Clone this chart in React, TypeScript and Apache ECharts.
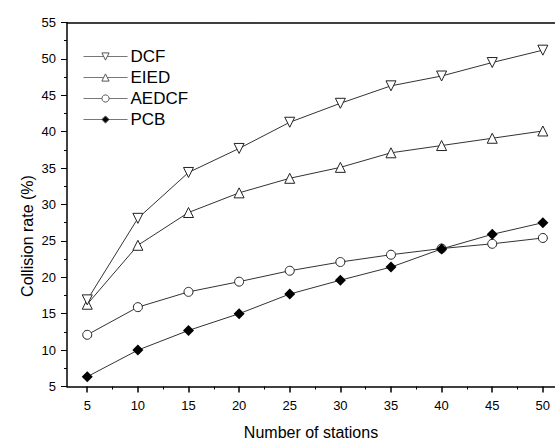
import React, { useEffect, useRef } from "react";
import * as echarts from "echarts";

const stations = [5, 10, 15, 20, 25, 30, 35, 40, 45, 50];
const dcf = [16.9, 28.1, 34.4, 37.7, 41.3, 43.9, 46.3, 47.65, 49.5, 51.2];
const eied = [16.3, 24.4, 28.9, 31.6, 33.6, 35.1, 37.1, 38.1, 39.1, 40.1];
const aedcf = [12.1, 15.9, 18.0, 19.4, 20.9, 22.1, 23.1, 23.95, 24.6, 25.4];
const pcb = [6.35, 10.0, 12.7, 15.0, 17.7, 19.6, 21.4, 23.9, 25.9, 27.5];
const xMajorTicks = [5, 10, 15, 20, 25, 30, 35, 40, 45, 50];
const xMinorTicks = [7.5, 12.5, 17.5, 22.5, 27.5, 32.5, 37.5, 42.5, 47.5];

const FONT = "Liberation Sans, Arial, sans-serif";

export default function App() {
  const ref = useRef<HTMLDivElement>(null);
  useEffect(() => {
    if (!ref.current) return;
    const chart = echarts.init(ref.current, undefined, { renderer: "svg" });
    const pair = (arr: number[]) => stations.map((s, i) => [s, arr[i]]);
    const lineStyle = { color: "#333", width: 1 };
    const emptyItem = { color: "#fff", borderColor: "#222", borderWidth: 1 };
    chart.setOption({
      animation: false,
      backgroundColor: "#fff",
      textStyle: { fontFamily: FONT },
      grid: { left: 67, right: 0, top: 22.5, bottom: 54.5, containLabel: false, outerBoundsMode: "none" },
      legend: {
        orient: "vertical",
        left: 78,
        top: 43,
        itemGap: 4,
        itemWidth: 44,
        itemHeight: 9,
        textStyle: { fontSize: 17, color: "#000", fontFamily: FONT, padding: [0, 0, 0, -2] },
        lineStyle: { color: "#777", width: 1 },
        itemStyle: { borderColor: "#555", borderWidth: 1 },
        data: ["DCF", "EIED", "AEDCF", "PCB"],
      },
      xAxis: [
        {
          type: "value",
          min: 3,
          max: 51.2,
          name: "Number of stations",
          nameLocation: "middle",
          nameGap: 38,
          nameTextStyle: { fontSize: 16, lineHeight: 16, color: "#000", fontFamily: FONT },
          axisLine: { show: true, lineStyle: { color: "#000", width: 1.5 } },
          axisTick: { show: true, inside: false, length: 6, customValues: xMajorTicks, lineStyle: { color: "#000", width: 1.5 } },
          axisLabel: { customValues: xMajorTicks, fontSize: 13, color: "#000", margin: 12, fontFamily: FONT },
          splitLine: { show: false },
        },
        {
          type: "value",
          min: 3,
          max: 51.2,
          position: "bottom",
          axisLine: { show: false },
          axisTick: { show: true, inside: false, length: 3, customValues: xMinorTicks, lineStyle: { color: "#000", width: 1 } },
          axisLabel: { show: false },
          splitLine: { show: false },
        },
        {
          type: "value",
          min: 3,
          max: 51.2,
          position: "top",
          axisLine: { show: true, lineStyle: { color: "#000", width: 1.5 } },
          axisTick: { show: false },
          axisLabel: { show: false },
          splitLine: { show: false },
        },
      ],
      yAxis: {
        type: "value",
        min: 5,
        max: 55,
        interval: 5,
        axisLine: { show: true, lineStyle: { color: "#000", width: 1.5 } },
        axisTick: { show: true, inside: false, length: 6, lineStyle: { color: "#000", width: 1 } },
        minorTick: { show: true, splitNumber: 2, length: 3, lineStyle: { color: "#000", width: 1 } },
        axisLabel: { fontSize: 13, color: "#000", margin: 11, fontFamily: FONT },
        splitLine: { show: false },
      },
      graphic: [
        {
          type: "text",
          x: 27,
          y: 236,
          rotation: Math.PI / 2,
          style: {
            text: "Collision rate (%)",
            fontSize: 16,
            fontFamily: FONT,
            fill: "#000",
            textAlign: "center",
            textVerticalAlign: "middle",
          },
        },
      ],
      series: [
        {
          name: "DCF",
          type: "line",
          data: pair(dcf),
          symbol: "triangle",
          symbolRotate: 180,
          symbolSize: 10,
          lineStyle,
          itemStyle: emptyItem,
          z: 4,
        },
        {
          name: "EIED",
          type: "line",
          data: pair(eied),
          symbol: "triangle",
          symbolSize: 10,
          lineStyle,
          itemStyle: emptyItem,
          z: 3,
        },
        {
          name: "AEDCF",
          type: "line",
          data: pair(aedcf),
          symbol: "circle",
          symbolSize: 9,
          lineStyle,
          itemStyle: emptyItem,
          z: 2,
        },
        {
          name: "PCB",
          type: "line",
          data: pair(pcb),
          symbol: "diamond",
          symbolSize: 11,
          lineStyle,
          itemStyle: { color: "#000", borderColor: "#000", borderWidth: 0 },
          z: 5,
        },
      ],
    });
    return () => chart.dispose();
  }, []);
  return <div ref={ref} style={{ width: 555, height: 441, position: "absolute", left: 0, top: 0 }} />;
}
